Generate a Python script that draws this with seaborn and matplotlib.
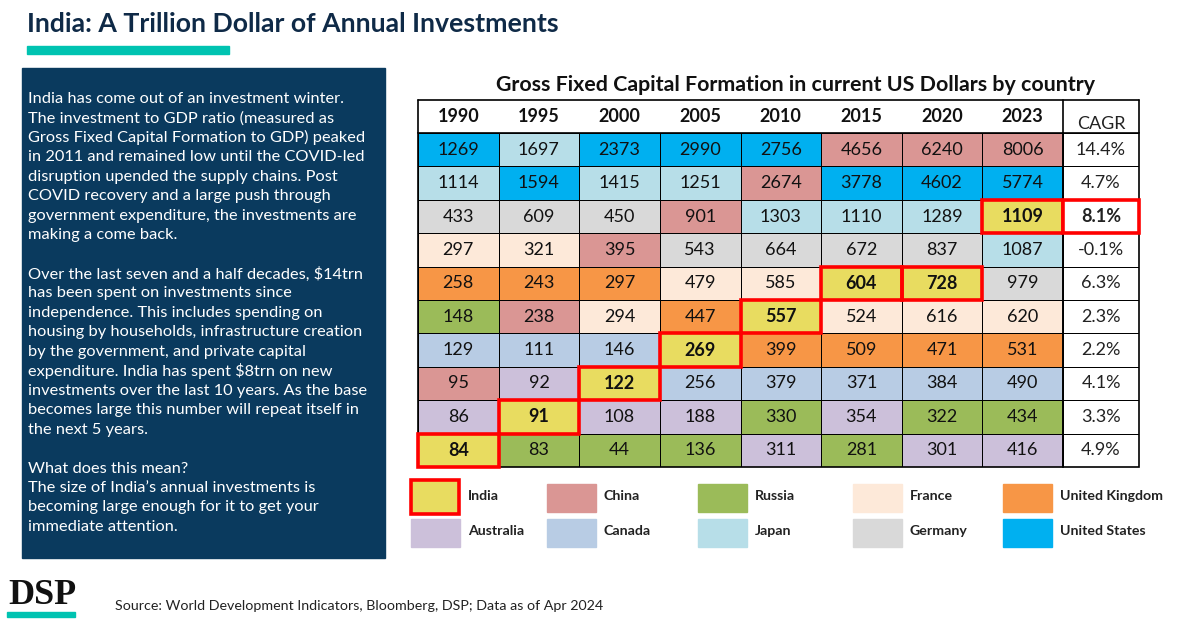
# Gross Fixed Capital Formation table: India vs the largest economies
import numpy as np
import seaborn as sns
import matplotlib.pyplot as plt
from matplotlib.colors import ListedColormap
from matplotlib.patches import Rectangle

sns.set_theme(style='white')
plt.rcParams['font.family'] = ['Lato', 'DejaVu Sans']

# data: country in each rank slot (top = largest) and value, per year (USD bn)
years = ['1990', '1995', '2000', '2005', '2010', '2015', '2020', '2023']

countries_1990 = ['US', 'JP', 'DE', 'FR', 'UK', 'RU', 'CA', 'CN', 'AU', 'IN']
values_1990 = [1269, 1114, 433, 297, 258, 148, 129, 95, 86, 84]
countries_1995 = ['JP', 'US', 'DE', 'FR', 'UK', 'CN', 'CA', 'AU', 'IN', 'RU']
values_1995 = [1697, 1594, 609, 321, 243, 238, 111, 92, 91, 83]
countries_2000 = ['US', 'JP', 'DE', 'CN', 'UK', 'FR', 'CA', 'IN', 'AU', 'RU']
values_2000 = [2373, 1415, 450, 395, 297, 294, 146, 122, 108, 44]
countries_2005 = ['US', 'JP', 'CN', 'DE', 'FR', 'UK', 'IN', 'CA', 'AU', 'RU']
values_2005 = [2990, 1251, 901, 543, 479, 447, 269, 256, 188, 136]
countries_2010 = ['US', 'CN', 'JP', 'DE', 'FR', 'IN', 'UK', 'CA', 'RU', 'AU']
values_2010 = [2756, 2674, 1303, 664, 585, 557, 399, 379, 330, 311]
countries_2015 = ['CN', 'US', 'JP', 'DE', 'IN', 'FR', 'UK', 'CA', 'AU', 'RU']
values_2015 = [4656, 3778, 1110, 672, 604, 524, 509, 371, 354, 281]
countries_2020 = ['CN', 'US', 'JP', 'DE', 'IN', 'FR', 'UK', 'CA', 'RU', 'AU']
values_2020 = [6240, 4602, 1289, 837, 728, 616, 471, 384, 322, 301]
countries_2023 = ['CN', 'US', 'IN', 'JP', 'DE', 'FR', 'UK', 'CA', 'RU', 'AU']
values_2023 = [8006, 5774, 1109, 1087, 979, 620, 531, 490, 434, 416]

cagr = ['14.4%', '4.7%', '8.1%', '-0.1%', '6.3%', '2.3%', '2.2%', '4.1%', '3.3%', '4.9%']

codes = ['IN', 'CN', 'RU', 'FR', 'UK', 'AU', 'CA', 'JP', 'DE', 'US']
names = ['India', 'China', 'Russia', 'France', 'United Kingdom',
         'Australia', 'Canada', 'Japan', 'Germany', 'United States']
colors = ['#E8DC60', '#DA9694', '#9BBB59', '#FDE9D9', '#F79646',
          '#CCC0DA', '#B8CCE4', '#B7DEE8', '#D9D9D9', '#00B0F0']

all_countries = [countries_1990, countries_1995, countries_2000, countries_2005,
                 countries_2010, countries_2015, countries_2020, countries_2023]
all_values = [values_1990, values_1995, values_2000, values_2005,
              values_2010, values_2015, values_2020, values_2023]

code_grid = np.array([[codes.index(c) for c in col] for col in all_countries]).T
value_grid = np.array(all_values).T

story = [
    "India has come out of an investment winter.",
    "The investment to GDP ratio (measured as",
    "Gross Fixed Capital Formation to GDP) peaked",
    "in 2011 and remained low until the COVID-led",
    "disruption upended the supply chains. Post",
    "COVID recovery and a large push through",
    "government expenditure, the investments are",
    "making a come back.",
    "",
    "Over the last seven and a half decades, $14trn",
    "has been spent on investments since",
    "independence. This includes spending on",
    "housing by households, infrastructure creation",
    "by the government, and private capital",
    "expenditure. India has spent $8trn on new",
    "investments over the last 10 years. As the base",
    "becomes large this number will repeat itself in",
    "the next 5 years.",
    "",
    "What does this mean?",
    "The size of India\u2019s annual investments is",
    "becoming large enough for it to get your",
    "immediate attention.",
]

W, H = 1200, 627
fig = plt.figure(figsize=(12, 6.27), dpi=100)
bg = fig.add_axes([0, 0, 1, 1])
bg.set_xlim(0, W)
bg.set_ylim(H, 0)
bg.axis('off')


def px_axes(x0, y0, x1, y1):
    return fig.add_axes([x0 / W, 1 - y1 / H, (x1 - x0) / W, (y1 - y0) / H])


navy = '#0F2A47'
teal = '#00C3B1'

# header
bg.text(27, 24, 'India: A Trillion Dollar of Annual Investments', fontsize=19.2,
        weight='bold', color=navy, va='center')
bg.add_patch(Rectangle((27, 46), 202, 8, color=teal))

# story box
bg.add_patch(Rectangle((22, 68), 363, 490, color='#0A3A5E'))
for k, line in enumerate(story):
    bg.text(28, 99 + k * 19.45, line, fontsize=11.8, color='white', va='center')

# table
tx0, tx1, cx1, ty0, ty1, hy = 418, 1063, 1139, 133, 467, 100
bg.text(796, 85, 'Gross Fixed Capital Formation in current US Dollars by country',
        fontsize=15.4, weight='bold', ha='center', va='center', color='#111111')
colw = (tx1 - tx0) / len(years)
for j, y in enumerate(years):
    bg.text(tx0 + (j + 0.5) * colw, 117, y, fontsize=13, weight='bold',
            ha='center', va='center', color='#111111')
bg.text((tx1 + cx1) / 2, 124, 'CAGR', fontsize=13, ha='center', va='center',
        color='#222222')
bg.plot([tx0, cx1], [hy, hy], color='black', lw=1.2)
bg.plot([tx0, tx0], [hy, ty0], color='black', lw=1.2)
bg.plot([cx1, cx1], [hy, ty0], color='black', lw=1.2)
bg.plot([tx1, tx1], [hy, ty0], color='black', lw=1.2)

tab = px_axes(tx0, ty0, tx1, ty1)
sns.heatmap(code_grid, ax=tab, cmap=ListedColormap(colors), vmin=-0.5,
            vmax=len(codes) - 0.5, annot=value_grid, fmt='d', cbar=False,
            linewidths=0.7, linecolor='black', xticklabels=False,
            yticklabels=False, annot_kws={'fontsize': 13, 'color': '#111111'})
tab.add_patch(Rectangle((0, 0), len(years), 10, fill=False, ec='black', lw=1.2,
                        clip_on=False, zorder=4))
india = codes.index('IN')
for t in tab.texts:
    x, y = t.get_position()
    i, j = int(y), int(x)
    if code_grid[i, j] == india:
        t.set_weight('bold')
        tab.add_patch(Rectangle((j, i), 1, 1, fill=False, ec='#FF0000', lw=2.6,
                                clip_on=False, zorder=5))

cg = px_axes(tx1, ty0, cx1, ty1)
sns.heatmap(np.zeros((10, 1)), ax=cg, cmap=ListedColormap(['white']),
            annot=np.array(cagr).reshape(-1, 1), fmt='', cbar=False,
            linewidths=0.7, linecolor='black', xticklabels=False,
            yticklabels=False, annot_kws={'fontsize': 13, 'color': '#222222'})
cg.add_patch(Rectangle((0, 0), 1, 10, fill=False, ec='black', lw=1.2,
                       clip_on=False, zorder=4))
india_row = countries_2023.index('IN')
cg.texts[india_row].set_weight('bold')
cg.add_patch(Rectangle((0, india_row), 1, 1, fill=False, ec='#FF0000', lw=2.6,
                       clip_on=False, zorder=5))

# legend
leg_x = [411, 547, 698, 853, 1003]
leg_y = [484, 519]
for k, (name, col) in enumerate(zip(names, colors)):
    r, c = divmod(k, 5)
    x, y = leg_x[c], leg_y[r]
    if name == 'India':
        bg.add_patch(Rectangle((x, y - 4), 48, 34, fc=col, ec='#FF0000', lw=2.6))
    else:
        bg.add_patch(Rectangle((x, y), 49, 28, color=col))
    bg.text(x + 57, y + 12, name, fontsize=10.2, weight='bold', va='center',
            color='#222222')

# footer
bg.text(8, 596, 'DSP', family='Liberation Serif', weight='bold', fontsize=26,
        va='center', color='#111111')
bg.add_patch(Rectangle((7, 612), 68, 5, color=teal))
bg.text(115, 606, 'Source: World Development Indicators, Bloomberg, DSP; Data as of Apr 2024',
        fontsize=10.3, va='center', color='#222222')

fig.savefig('out.png', dpi=100)
